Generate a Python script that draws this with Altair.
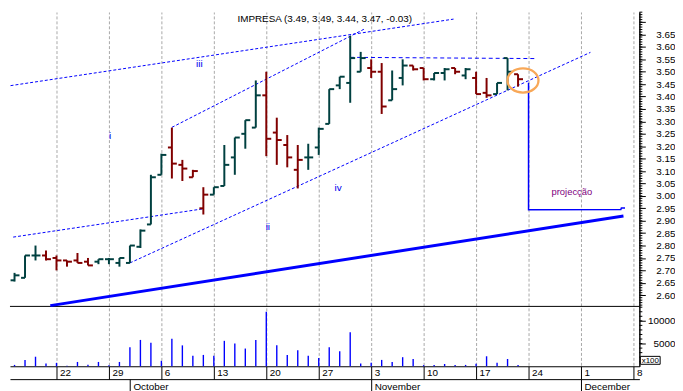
import altair as alt
import pandas as pd

# ---------------- data ----------------
DAY_IDX = list(range(1, 50))  # trading days from Mon 15 Sep 2003 (= 0)
OPEN = [2.66, 2.67, 2.76, 2.76, 2.75, 2.74, 2.74, 2.735, 2.735, 2.745, 2.73, 2.73, 2.795, 2.885,
        3.085, 3.195, 3.125, 3.075, 2.95, 3.005, 3.04, 3.155, 3.25, 3.275, 3.405, 3.255, 3.205,
        3.105, 3.155, 3.195, 3.29, 3.445, 3.455, 3.50, 3.515, 3.50, 3.385, 3.475, 3.525, 3.515,
        3.47, 3.495, 3.515, 3.485, 3.475, 3.415, 3.41, 3.555, 3.49]
HIGH = [2.69, 2.76, 2.80, 2.78, 2.76, 2.74, 2.77, 2.75, 2.745, 2.75, 2.75, 2.80, 2.865, 3.085,
        3.17, 3.275, 3.145, 3.105, 3.035, 3.035, 3.205, 3.235, 3.305, 3.465, 3.50, 3.315, 3.245,
        3.205, 3.21, 3.275, 3.43, 3.48, 3.645, 3.58, 3.55, 3.535, 3.505, 3.55, 3.525, 3.515,
        3.495, 3.515, 3.515, 3.515, 3.50, 3.475, 3.455, 3.555, 3.49]
LOW = [2.655, 2.67, 2.74, 2.74, 2.70, 2.715, 2.73, 2.72, 2.725, 2.725, 2.715, 2.73, 2.79, 2.885,
       3.085, 3.07, 3.06, 3.075, 2.925, 3.005, 3.04, 3.085, 3.19, 3.275, 3.16, 3.125, 3.115,
       3.03, 3.105, 3.165, 3.29, 3.43, 3.375, 3.50, 3.475, 3.33, 3.385, 3.445, 3.505, 3.465,
       3.465, 3.465, 3.49, 3.47, 3.41, 3.395, 3.41, 3.425, 3.44]
CLOSE = [2.68, 2.76, 2.76, 2.745, 2.74, 2.735, 2.73, 2.72, 2.745, 2.745, 2.75, 2.80, 2.86, 3.075,
         3.165, 3.13, 3.11, 3.10, 3.005, 3.035, 3.125, 3.235, 3.305, 3.405, 3.23, 3.225, 3.155,
         3.145, 3.155, 3.27, 3.43, 3.48, 3.555, 3.555, 3.50, 3.36, 3.43, 3.525, 3.51, 3.47,
         3.495, 3.51, 3.50, 3.51, 3.41, 3.405, 3.455, 3.50, 3.47]
VOLUME = [300, 1400, 2100, 600, 750, 100, 950, 320, 950, 200, 950, 4200, 5800, 5200, 1200,
          6050, 4600, 2300, 2500, 2300, 5600, 5000, 3900, 5800, 12000, 4600, 2500, 3500, 2300,
          1800, 4200, 3300, 7500, 600, 750, 1400, 950, 2000, 1600, 250, 300, 500, 300, 300,
          550, 2200, 750, 1600, 300]

WEEK_IDX = [5, 10, 15, 20, 25, 30, 35, 40, 45, 50, 55, 60]
WEEK_LABELS = ['22', '29', '6', '13', '20', '27', '3', '10', '17', '24', '1', '8']
MONTH_IDX = [12, 35, 55]
MONTH_LABELS = ['October', 'November', 'December']

PRICE_TICKS = [round(2.60 + 0.05 * k, 2) for k in range(23)]
PRICE_MINOR = [round(2.56 + 0.01 * k, 2) for k in range(119)]
VOL_TICKS = [5000, 10000]
VOL_MINOR = [1000 * k for k in range(1, 14)]

# annotation lines (day index, price)
L1_I, L1_P = [0.62, 42.85], [3.444, 3.712]
L2_I, L2_P = [0.87, 19.0], [2.834, 2.948]
L3_I, L3_P = [16, 34.3], [3.276, 3.671]
L4_I, L4_P = [12, 55.9], [2.73, 3.578]
L5_I, L5_P = [33, 50.8], [3.558, 3.553]
SUP_I, SUP_P = [4.41, 59.05], [2.558, 2.919]
PROJ_I = [50, 50, 58.8, 58.85, 59.2]
PROJ_P = [3.456, 2.944, 2.945, 2.951, 2.951]
SEP_P = [2.5549]

LABEL_TXT = ['i', 'iii', 'ii', 'iv']
LABEL_I = [10.1, 18.62, 25.15, 31.84]
LABEL_P = [3.2405, 3.533, 2.876, 3.032]
TITLE = 'IMPRESA (3.49, 3.49, 3.44, 3.47, -0.03)'
TITLE_I, TITLE_P = 30.57, 3.712
PROJ_TXT, PROJ_TXT_I, PROJ_TXT_P = 'projecção', 54.13, 3.017
CIRC_I, CIRC_P = 49.47, 3.465

# ---------------- layout / style ----------------
W, H = 636, 358
XDOM = [0.56604, 60.56604]
PDOM = [2.3138, 3.7407]
VDOM = [0, 78000]
FONT = 'Liberation Sans'
GREEN, RED, BLUE = '#004040', '#800000', '#0000ff'

XS = alt.Scale(domain=XDOM, nice=False, zero=False)
PS = alt.Scale(domain=PDOM, nice=False, zero=False)
VS = alt.Scale(domain=VDOM, nice=False, zero=True)

def arr(vals):
    return '[' + ','.join(repr(v) for v in vals) + ']'

day_expr = f"{arr(WEEK_LABELS)}[indexof({arr(WEEK_IDX)}, datum.value)]"
month_expr = f"{arr(MONTH_LABELS)}[indexof({arr(MONTH_IDX)}, datum.value)]"

XAX = alt.Axis(orient='bottom', values=WEEK_IDX, labelExpr=day_expr, grid=False,
               tickSize=13, tickColor='black', tickWidth=1,
               domain=True, domainColor='black', domainWidth=1, labelAlign='left',
               labelBaseline='middle', labelPadding=-6.5, labelOffset=3, labelFontSize=10,
               labelFont=FONT, labelColor='black', title=None, labelFlush=False,
               labelOverlap=False)
MAX = alt.Axis(orient='bottom', offset=13, values=MONTH_IDX, labelExpr=month_expr, grid=False,
               tickSize=12, tickColor='black', tickWidth=1, domain=True, domainColor='black',
               labelAlign='left', labelBaseline='middle', labelPadding=-5, labelOffset=3,
               labelFontSize=10, labelFont=FONT, labelColor='black', title=None,
               labelFlush=False, labelOverlap=False)
PAX = alt.Axis(orient='right', values=PRICE_TICKS, format='.2f',
               labelExpr="datum.value > 3.66 ? '' : datum.label", tickSize=6,
               tickColor='black', domain=True, domainColor='black', labelAlign='right',
               labelPadding=30, labelFontSize=10, labelFont=FONT, labelColor='black',
               grid=False, title=None, labelFlush=False, labelOverlap=False)
VAX = alt.Axis(orient='right', values=VOL_TICKS, format='d', tickSize=6, tickColor='black',
               domain=True, domainColor='black', labelAlign='right', labelPadding=30,
               labelFontSize=10, labelFont=FONT, labelColor='black', grid=False, title=None,
               labelFlush=False, labelOverlap=False)

def X(f):
    return alt.X(f, scale=XS, axis=XAX)

def YP(f):
    return alt.Y(f, scale=PS, axis=PAX)

def YV(f):
    return alt.Y(f, scale=VS, axis=VAX)

# ---------------- frames ----------------
ohlc = pd.DataFrame({'i': DAY_IDX, 'open': OPEN, 'high': HIGH, 'low': LOW,
                     'close': CLOSE, 'vol': VOLUME})
prev = ohlc['close'].shift(1).fillna(ohlc['close'].iloc[0])
ohlc['dir'] = ['up' if c >= p else 'down' for c, p in zip(ohlc['close'], prev)]
color = alt.Color('dir:N', scale=alt.Scale(domain=['up', 'down'], range=[GREEN, RED]),
                  legend=None)

def line_df(ii, pp):
    return pd.DataFrame({'i': ii, 'p': pp, 'k': list(range(len(ii)))})

# weekly dashed gridlines drawn as two-point lines spanning the plot height
GRID_ENDS = [PDOM[0] + 0.002, PDOM[1] - 0.002]
grid_df = pd.DataFrame({'w': [w for w in WEEK_IDX for _ in (0, 1)],
                        'p': [GRID_ENDS[j] for _ in WEEK_IDX for j in (0, 1)]})
grid = alt.Chart(grid_df).mark_line(color='#a8a8a8', strokeWidth=1, strokeDash=[3, 2],
                                    xOffset=0.5).encode(
    x=X('w:Q'), y=YP('p:Q'), detail='w:N')

base = alt.Chart(ohlc)
hl = base.mark_rule(strokeWidth=2).encode(x=X('i:Q'), y=YP('low:Q'), y2='high:Q', color=color)
op = base.mark_rule(strokeWidth=2, xOffset=-4).encode(x=X('i:Q'), x2='i:Q', y=YP('open:Q'),
                                                      color=color)
cl = base.mark_rule(strokeWidth=2, x2Offset=5).encode(x=X('i:Q'), x2='i:Q', y=YP('close:Q'),
                                                     color=color)

def dashed(ii, pp, dash):
    return alt.Chart(line_df(ii, pp)).mark_line(color=BLUE, strokeWidth=1,
                                                strokeDash=dash).encode(
        x=X('i:Q'), y=YP('p:Q'), order='k:Q')

lines = [dashed(L1_I, L1_P, [3, 2]), dashed(L2_I, L2_P, [3, 2]),
         dashed(L3_I, L3_P, [3, 2]), dashed(L4_I, L4_P, [3, 2]),
         dashed(L5_I, L5_P, [4, 3])]
support = alt.Chart(line_df(SUP_I, SUP_P)).mark_line(color=BLUE, strokeWidth=3).encode(
    x=X('i:Q'), y=YP('p:Q'), order='k:Q')
proj = alt.Chart(line_df(PROJ_I, PROJ_P)).mark_line(color=BLUE, strokeWidth=1.5).encode(
    x=X('i:Q'), y=YP('p:Q'), order='k:Q')

sep = alt.Chart(pd.DataFrame({'p': SEP_P})).mark_rule(color='black', strokeWidth=1).encode(
    y=YP('p:Q'))
pminor = alt.Chart(pd.DataFrame({'p': PRICE_MINOR})).mark_rule(color='black').encode(
    x=alt.value(W), x2=alt.value(W + 3), y=YP('p:Q'))

labels = alt.Chart(pd.DataFrame({'i': LABEL_I, 'p': LABEL_P, 't': LABEL_TXT})).mark_text(
    font=FONT, fontSize=10, color='#0000ee', align='center', baseline='middle').encode(
    x=X('i:Q'), y=YP('p:Q'), text='t:N')
title = alt.Chart(pd.DataFrame({'i': [TITLE_I], 'p': [TITLE_P], 't': [TITLE]})).mark_text(
    font=FONT, fontSize=10, color='black', align='center', baseline='middle').encode(
    x=X('i:Q'), y=YP('p:Q'), text='t:N')
ptxt = alt.Chart(pd.DataFrame({'i': [PROJ_TXT_I], 'p': [PROJ_TXT_P], 't': [PROJ_TXT]})).mark_text(
    font=FONT, fontSize=9.5, color='#800080', align='center', baseline='middle').encode(
    x=X('i:Q'), y=YP('p:Q'), text='t:N')

ry, kk = 0.78, 0.5523
ELLIPSE = (f"M -1 0 C -1 {-ry*kk:.4f} {-kk} {-ry} 0 {-ry} C {kk} {-ry} 1 {-ry*kk:.4f} 1 0 "
           f"C 1 {ry*kk:.4f} {kk} {ry} 0 {ry} C {-kk} {ry} -1 {ry*kk:.4f} -1 0 Z")
circ = alt.Chart(pd.DataFrame({'i': [CIRC_I], 'p': [CIRC_P]})).mark_point(
    shape=ELLIPSE, size=980, filled=False, stroke='#f8a858', strokeWidth=2.3,
    opacity=1).encode(x=X('i:Q'), y=YP('p:Q'))

price_group = alt.layer(grid, sep, pminor, *lines, support, proj, hl, op, cl, circ, labels,
                        title, ptxt)

vol = base.mark_rule(color=BLUE, strokeWidth=1.4).encode(x=X('i:Q'), y=YV('vol:Q'),
                                                       y2=alt.datum(0))
vminor = alt.Chart(pd.DataFrame({'v': VOL_MINOR})).mark_rule(color='black').encode(
    x=alt.value(W), x2=alt.value(W + 3), y=YV('v:Q'))
unit_df = pd.DataFrame({'t': ['x100']})
ubox = alt.Chart(unit_df).mark_rect(fill='white', stroke='black', strokeWidth=1).encode(
    x=alt.value(W + 1), x2=alt.value(W + 21), y=alt.value(348), y2=alt.value(356))
utxt = alt.Chart(unit_df).mark_text(font=FONT, fontSize=8, color='black', align='center',
                                    baseline='middle').encode(
    x=alt.value(W + 11), y=alt.value(352.5), text='t:N')
vol_group = alt.layer(vol, vminor, ubox, utxt)

inner = alt.layer(price_group, vol_group).resolve_scale(y='independent')

month = alt.Chart(pd.DataFrame({'mi': MONTH_IDX})).mark_point(opacity=0, size=1).encode(
    x=alt.X('mi:Q', scale=XS, axis=MAX))

chart = alt.layer(inner, month).resolve_scale(x='independent').properties(
    width=W, height=H, padding=0, background='white'
).configure_view(stroke=None)

chart.save("out.html", embed_options={"renderer": "svg", "actions": False})
